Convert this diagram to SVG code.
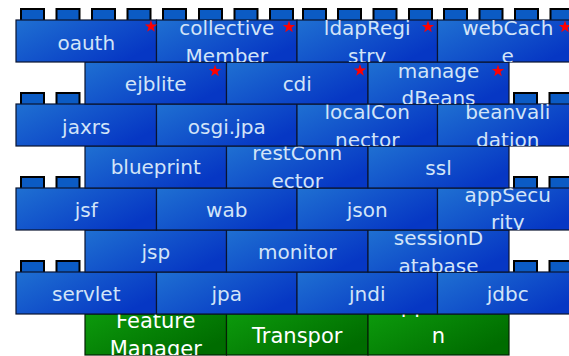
<svg xmlns="http://www.w3.org/2000/svg" width="569" height="356" viewBox="0 0 569 356">
<defs>
<linearGradient id="gb" x1="0" y1="0" x2="1" y2="0.6">
<stop offset="0" stop-color="#1f70d2"/>
<stop offset="1" stop-color="#0637c4"/>
</linearGradient>
<linearGradient id="gg" x1="0" y1="0" x2="1" y2="0.6">
<stop offset="0" stop-color="#0c9a0c"/>
<stop offset="1" stop-color="#006c00"/>
</linearGradient>
<path id="star" d="M0,-6.5 L1.53,-2.1 L6.18,-2.01 L2.47,0.8 L3.82,5.26 L0,2.6 L-3.82,5.26 L-2.47,0.8 L-6.18,-2.01 L-1.53,-2.1 Z"/>
<rect id="stud" width="23" height="12"/>
</defs>
<style>
.b{fill:url(#gb);stroke:#0a1430;stroke-width:1.2}
.g{fill:url(#gg);stroke:#062006;stroke-width:1.2}
.s{fill:#0b5bc4;stroke:#000;stroke-width:2}
.t{font-family:"DejaVu Sans","Liberation Sans",sans-serif;font-size:20px;fill:#d2e4f8;text-anchor:middle}
.tg{font-family:"DejaVu Sans","Liberation Sans",sans-serif;font-size:21px;fill:#ffffff;text-anchor:middle}
.star{fill:#ff0000}
</style>
<rect width="569" height="356" fill="#ffffff"/>

<!-- Row 8 (green) -->
<g id="featureManager"><rect class="g" x="85" y="314" width="141.5" height="41"/>
<svg x="85" y="314" width="141.5" height="41"><text class="tg" x="70.75"><tspan x="70.75" y="14">Feature</tspan><tspan x="70.75" y="42">Manager</tspan></text></svg></g>
<g id="transport"><rect class="g" x="226.5" y="314" width="141.5" height="41"/>
<svg x="226.5" y="314" width="141.5" height="41"><text class="tg" x="70.75" y="29">Transpor</text></svg></g>
<g id="appManager"><rect class="g" x="368" y="314" width="141" height="41"/>
<svg x="368" y="314" width="141" height="41"><text class="tg" x="70.5"><tspan x="70.5" y="-1">Applicatio</tspan><tspan x="70.5" y="29">n</tspan><tspan x="70.5" y="57">Manager</tspan></text></svg></g>

<!-- Row 7 -->
<use href="#stud" class="s" x="21" y="261"/><use href="#stud" class="s" x="56.5" y="261"/>
<use href="#stud" class="s" x="514" y="261"/><use href="#stud" class="s" x="549.5" y="261"/>
<g id="servlet"><rect class="b" x="16" y="272" width="140.5" height="42"/>
<svg x="16" y="272" width="140.5" height="42"><text class="t" x="70.25" y="29">servlet</text></svg></g>
<g id="jpa"><rect class="b" x="156.5" y="272" width="140.5" height="42"/>
<svg x="156.5" y="272" width="140.5" height="42"><text class="t" x="70.25" y="29">jpa</text></svg></g>
<g id="jndi"><rect class="b" x="297" y="272" width="140.5" height="42"/>
<svg x="297" y="272" width="140.5" height="42"><text class="t" x="70.25" y="29">jndi</text></svg></g>
<g id="jdbc"><rect class="b" x="437.5" y="272" width="140.5" height="42"/>
<svg x="437.5" y="272" width="140.5" height="42"><text class="t" x="70.25" y="29">jdbc</text></svg></g>

<!-- Row 6 -->
<g id="jsp"><rect class="b" x="85" y="230" width="141.5" height="42"/>
<svg x="85" y="230" width="141.5" height="42"><text class="t" x="70.75" y="29">jsp</text></svg></g>
<g id="monitor"><rect class="b" x="226.5" y="230" width="141.5" height="42"/>
<svg x="226.5" y="230" width="141.5" height="42"><text class="t" x="70.75" y="29">monitor</text></svg></g>
<g id="sessionDatabase"><rect class="b" x="368" y="230" width="141" height="42"/>
<svg x="368" y="230" width="141" height="42"><text class="t" x="70.5"><tspan x="70.5" y="14.5">sessionD</tspan><tspan x="70.5" y="42.5">atabase</tspan></text></svg></g>

<!-- Row 5 -->
<use href="#stud" class="s" x="21" y="177"/><use href="#stud" class="s" x="56.5" y="177"/>
<use href="#stud" class="s" x="514" y="177"/><use href="#stud" class="s" x="549.5" y="177"/>
<g id="jsf"><rect class="b" x="16" y="188" width="140.5" height="42"/>
<svg x="16" y="188" width="140.5" height="42"><text class="t" x="70.25" y="29">jsf</text></svg></g>
<g id="wab"><rect class="b" x="156.5" y="188" width="140.5" height="42"/>
<svg x="156.5" y="188" width="140.5" height="42"><text class="t" x="70.25" y="29">wab</text></svg></g>
<g id="json"><rect class="b" x="297" y="188" width="140.5" height="42"/>
<svg x="297" y="188" width="140.5" height="42"><text class="t" x="70.25" y="29">json</text></svg></g>
<g id="appSecurity"><rect class="b" x="437.5" y="188" width="140.5" height="42"/>
<svg x="437.5" y="188" width="140.5" height="42"><text class="t" x="70.25"><tspan x="70.25" y="14">appSecu</tspan><tspan x="70.25" y="41">rity</tspan></text></svg></g>

<!-- Row 4 -->
<g id="blueprint"><rect class="b" x="85" y="146" width="141.5" height="42"/>
<svg x="85" y="146" width="141.5" height="42"><text class="t" x="70.75" y="28">blueprint</text></svg></g>
<g id="restConnector"><rect class="b" x="226.5" y="146" width="141.5" height="42"/>
<svg x="226.5" y="146" width="141.5" height="42"><text class="t" x="70.75"><tspan x="70.75" y="13.5">restConn</tspan><tspan x="70.75" y="41.5">ector</tspan></text></svg></g>
<g id="ssl"><rect class="b" x="368" y="146" width="141" height="42"/>
<svg x="368" y="146" width="141" height="42"><text class="t" x="70.5" y="29">ssl</text></svg></g>

<!-- Row 3 -->
<use href="#stud" class="s" x="21" y="93"/><use href="#stud" class="s" x="56.5" y="93"/>
<use href="#stud" class="s" x="514" y="93"/><use href="#stud" class="s" x="549.5" y="93"/>
<g id="jaxrs"><rect class="b" x="16" y="104" width="140.5" height="42"/>
<svg x="16" y="104" width="140.5" height="42"><text class="t" x="70.25" y="30">jaxrs</text></svg></g>
<g id="osgiJpa"><rect class="b" x="156.5" y="104" width="140.5" height="42"/>
<svg x="156.5" y="104" width="140.5" height="42"><text class="t" x="70.25" y="30">osgi.jpa</text></svg></g>
<g id="localConnector"><rect class="b" x="297" y="104" width="140.5" height="42"/>
<svg x="297" y="104" width="140.5" height="42"><text class="t" x="70.25"><tspan x="70.25" y="15">localCon</tspan><tspan x="70.25" y="43">nector</tspan></text></svg></g>
<g id="beanValidation"><rect class="b" x="437.5" y="104" width="140.5" height="42"/>
<svg x="437.5" y="104" width="140.5" height="42"><text class="t" x="70.25"><tspan x="70.25" y="15">beanvali</tspan><tspan x="70.25" y="43">dation</tspan></text></svg></g>

<!-- Row 2 -->
<g id="ejblite"><rect class="b" x="85" y="62" width="141.5" height="42"/>
<svg x="85" y="62" width="141.5" height="42"><text class="t" x="70.75" y="29">ejblite</text></svg></g>
<g id="cdi"><rect class="b" x="226.5" y="62" width="141.5" height="42"/>
<svg x="226.5" y="62" width="141.5" height="42"><text class="t" x="70.75" y="29">cdi</text></svg></g>
<g id="managedBeans"><rect class="b" x="368" y="62" width="141" height="42"/>
<svg x="368" y="62" width="141" height="42"><text class="t" x="70.5"><tspan x="70.5" y="16">manage</tspan><tspan x="70.5" y="43">dBeans</tspan></text></svg></g>

<!-- Row 1 -->
<g id="row1studs">
<use href="#stud" class="s" x="21" y="9"/><use href="#stud" class="s" x="56.5" y="9"/><use href="#stud" class="s" x="92" y="9"/><use href="#stud" class="s" x="127.5" y="9"/>
<use href="#stud" class="s" x="163" y="9"/><use href="#stud" class="s" x="199" y="9"/><use href="#stud" class="s" x="234.5" y="9"/><use href="#stud" class="s" x="270" y="9"/>
<use href="#stud" class="s" x="303" y="9"/><use href="#stud" class="s" x="338" y="9"/><use href="#stud" class="s" x="373.5" y="9"/><use href="#stud" class="s" x="409" y="9"/>
<use href="#stud" class="s" x="444" y="9"/><use href="#stud" class="s" x="479.5" y="9"/><use href="#stud" class="s" x="515" y="9"/><use href="#stud" class="s" x="550.5" y="9"/>
</g>
<g id="oauth"><rect class="b" x="16" y="20" width="140.5" height="42"/>
<svg x="16" y="20" width="140.5" height="42"><text class="t" x="70.25" y="30">oauth</text></svg></g>
<g id="collectiveMember"><rect class="b" x="156.5" y="20" width="140.5" height="42"/>
<svg x="156.5" y="20" width="140.5" height="42"><text class="t" x="70.25"><tspan x="70.25" y="15">collective</tspan><tspan x="70.25" y="43">Member</tspan></text></svg></g>
<g id="ldapRegistry"><rect class="b" x="297" y="20" width="140.5" height="42"/>
<svg x="297" y="20" width="140.5" height="42"><text class="t" x="70.25"><tspan x="70.25" y="15">ldapRegi</tspan><tspan x="70.25" y="43">stry</tspan></text></svg></g>
<g id="webCache"><rect class="b" x="437.5" y="20" width="140.5" height="42"/>
<svg x="437.5" y="20" width="140.5" height="42"><text class="t" x="70.25"><tspan x="70.25" y="15">webCach</tspan><tspan x="70.25" y="43">e</tspan></text></svg></g>

<g id="connectors"/>

<g id="stars">
<use href="#star" class="star" x="151" y="26.5"/>
<use href="#star" class="star" x="289" y="27"/>
<use href="#star" class="star" x="428" y="27"/>
<use href="#star" class="star" x="565" y="27"/>
<use href="#star" class="star" x="215" y="71"/>
<use href="#star" class="star" x="360" y="70.5"/>
<use href="#star" class="star" x="498" y="71"/>
</g>
</svg>
